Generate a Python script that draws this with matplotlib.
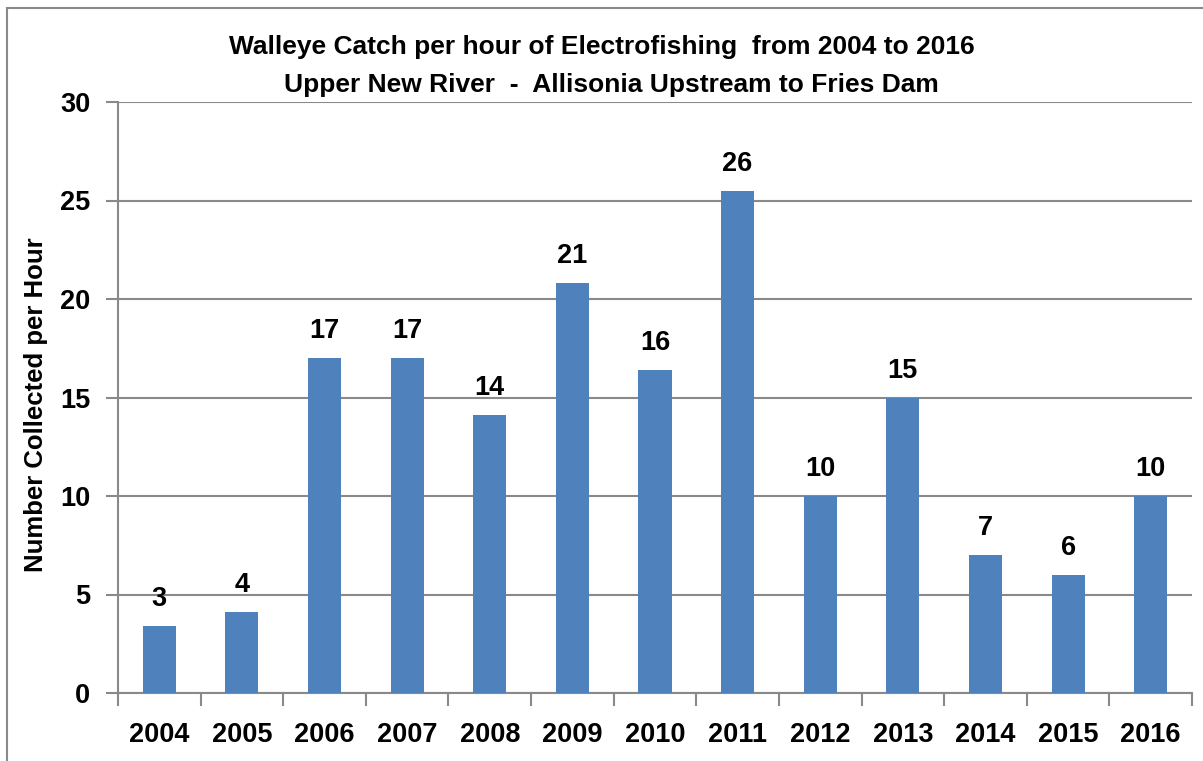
import numpy as np
import matplotlib
import matplotlib.pyplot as plt
from matplotlib.patches import Rectangle
matplotlib.use('Agg')

years = ['2004', '2005', '2006', '2007', '2008', '2009', '2010',
         '2011', '2012', '2013', '2014', '2015', '2016']
catch = [3.4, 4.1, 17.0, 17.0, 14.1, 20.8, 16.4, 25.5, 10.0, 15.0, 7.0, 6.0, 10.0]
labels = ['3', '4', '17', '17', '14', '21', '16', '26', '10', '15', '7', '6', '10']

plt.rcParams['font.family'] = ['Liberation Sans', 'DejaVu Sans']
plt.rcParams['font.weight'] = 'bold'

fig = plt.figure(figsize=(12.03, 7.61), dpi=100)
ax = fig.add_axes([118 / 1203, 1 - 693 / 761, 1074 / 1203, 591 / 761])

grey = '#898989'
x = np.arange(len(years))
ax.bar(x, catch, width=0.4, color='#4F81BD', zorder=3)
for xi, v, t in zip(x, catch, labels):
    ax.annotate(t, (xi, v), xytext=(0, 10), textcoords='offset points',
                ha='center', va='bottom', fontsize=19.5, fontweight='bold')

ax.set_xlim(-0.5, len(years) - 0.5)
ax.set_ylim(0, 30)
ax.set_yticks(range(0, 31, 5))
ax.set_xticks(x)
ax.set_xticklabels(years)
ax.set_xticks(np.arange(-0.5, len(years), 1), minor=True)
ax.tick_params(axis='x', which='major', length=0, pad=21, labelsize=19.5)
ax.tick_params(axis='x', which='minor', length=9, color=grey, width=1.5)
ax.tick_params(axis='y', length=9, color=grey, width=1.5, pad=11, labelsize=19.5)
ax.grid(axis='y', color=grey, linewidth=1.5, zorder=0)
for s in ['top', 'right']:
    ax.spines[s].set_visible(False)
for s in ['left', 'bottom']:
    ax.spines[s].set_color(grey)
    ax.spines[s].set_linewidth(1.5)
ax.set_ylabel('Number Collected per Hour', fontsize=18.5, fontweight='bold')
ax.yaxis.set_label_coords(-0.065, 0.487)

fig.text(0.5, 1 - 47 / 761, 'Walleye Catch per hour of Electrofishing  from 2004 to 2016',
         ha='center', va='center', fontsize=19, fontweight='bold')
fig.text(0.508, 1 - 85 / 761, 'Upper New River  -  Allisonia Upstream to Fries Dam',
         ha='center', va='center', fontsize=19, fontweight='bold')

fig.patches.append(Rectangle((7 / 1203, -0.1), 1.2, 0.1 + 1 - 8 / 761,
                             transform=fig.transFigure, fill=False,
                             edgecolor=grey, linewidth=1.5))

fig.savefig('out.png', dpi=100)
